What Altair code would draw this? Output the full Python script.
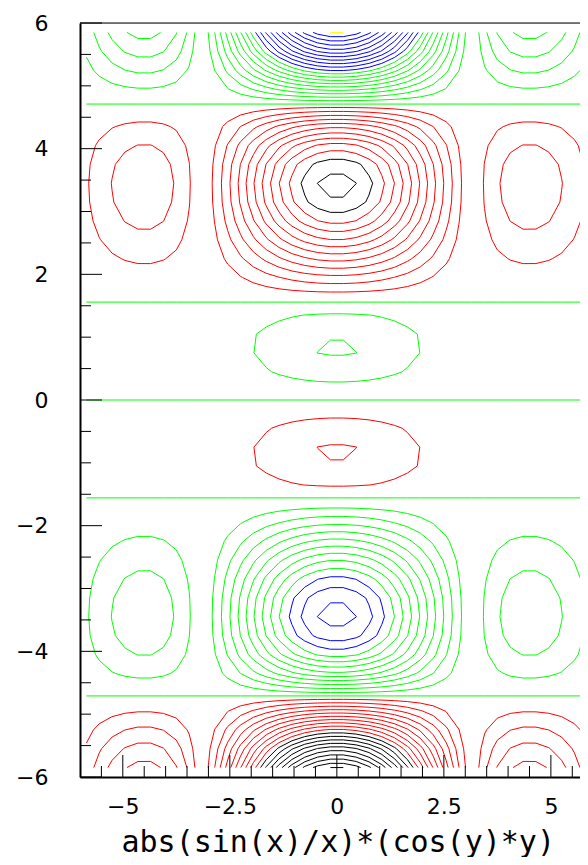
import numpy as np
import pandas as pd
import altair as alt

# ---- data description ------------------------------------------------------
# The chart is a contour plot of the function named in its axis title:
#   abs(sin(x)/x) * (cos(y)*y), sampled on a 40 x 40 bin-centre grid over [-6, 6]
X_RANGE = [-6.0, 6.0]
Y_RANGE = [-6.0, 6.0]
N_BINS = 40
N_LEVEL_STEPS = 40          # levels run from zmin to zmax inclusive (41 levels)
LEVELS_PER_COLOR = 10
GROUP_NAMES = ["black", "red", "green", "blue", "yellow"]
GROUP_COLORS = ["#000000", "#ff0000", "#00ff00", "#0000ff", "#ffff00"]

X_MAJOR = [-5, -2.5, 0, 2.5, 5]
X_MINOR = [-5.5, -4.5, -4, -3.5, -3, -2, -1.5, -1, -0.5,
           0.5, 1, 1.5, 2, 3, 3.5, 4, 4.5, 5.5]
Y_MAJOR = [-6, -4, -2, 0, 2, 4, 6]
Y_MINOR = [-5.5, -5, -4.5, -3.5, -3, -2.5, -1.5, -1, -0.5,
           0.5, 1, 1.5, 2.5, 3, 3.5, 4.5, 5, 5.5]
X_TITLE = "abs(sin(x)/x)*(cos(y)*y)"
X_VISIBLE_MAX = 5.68        # the reference frame is cut off by the image's right edge

# ---- sample the function on the grid ----------------------------------------
dx = (X_RANGE[1] - X_RANGE[0]) / N_BINS
dy = (Y_RANGE[1] - Y_RANGE[0]) / N_BINS
xc = X_RANGE[0] + (np.arange(N_BINS) + 0.5) * dx
yc = Y_RANGE[0] + (np.arange(N_BINS) + 0.5) * dy
XX, YY = np.meshgrid(xc, yc)          # z[j, i] -> (xc[i], yc[j])
Z = np.abs(np.sin(XX) / XX) * (np.cos(YY) * YY)
levels = np.linspace(Z.min(), Z.max(), N_LEVEL_STEPS + 1)

# ---- marching squares ---------------------------------------------------------
rows = []
for li, L in enumerate(levels):
    group = GROUP_NAMES[min(li // LEVELS_PER_COLOR, len(GROUP_NAMES) - 1)]
    last = li == len(levels) - 1
    inside = (Z >= L) if last else (Z > L)
    for j in range(N_BINS - 1):
        for i in range(N_BINS - 1):
            cb = [inside[j, i], inside[j, i + 1], inside[j + 1, i + 1], inside[j + 1, i]]
            if all(cb) or not any(cb):
                continue
            cz = [Z[j, i], Z[j, i + 1], Z[j + 1, i + 1], Z[j + 1, i]]
            cp = [(xc[i], yc[j]), (xc[i + 1], yc[j]), (xc[i + 1], yc[j + 1]), (xc[i], yc[j + 1])]
            edges = [(0, 1), (1, 2), (3, 2), (0, 3)]
            pts = {}
            for e, (a, b) in enumerate(edges):
                if cb[a] != cb[b]:
                    t = (L - cz[a]) / (cz[b] - cz[a])
                    pts[e] = (cp[a][0] + t * (cp[b][0] - cp[a][0]),
                              cp[a][1] + t * (cp[b][1] - cp[a][1]))
            keys = list(pts)
            if len(keys) == 2:
                pairs = [(keys[0], keys[1])]
            else:
                centre_in = (sum(cz) / 4.0) > L
                if cb[0]:   # corners 0 and 2 inside
                    pairs = [(0, 1), (2, 3)] if centre_in else [(0, 3), (1, 2)]
                else:       # corners 1 and 3 inside
                    pairs = [(0, 3), (1, 2)] if centre_in else [(0, 1), (2, 3)]
            for a, b in pairs:
                (x1, y1), (x2, y2) = pts[a], pts[b]
                rows.append((round(x1, 4), round(y1, 4), round(x2, 4), round(y2, 4), group))

seg = pd.DataFrame(rows, columns=["x", "y", "x2", "y2", "g"])

# ---- chart -------------------------------------------------------------------
W, H = 500, 754
MAJOR_LEN, MINOR_LEN = 22, 11
LABEL_EXPR = "(datum.value < 0 ? '\u2212' : '') + abs(datum.value)"

xs = alt.Scale(domain=[X_RANGE[0], X_VISIBLE_MAX], nice=False, zero=False)
ys = alt.Scale(domain=Y_RANGE, nice=False, zero=False)

x_axis = alt.Axis(
    values=X_MAJOR, labelExpr=LABEL_EXPR, ticks=False, tickSize=0, grid=False,
    domainColor="black", domainWidth=2,
    labelFont="DejaVu Sans", labelFontSize=22, labelColor="black",
    labelPadding=19, labelFlush=False, labelOverlap=False,
    title=X_TITLE, titleFont="DejaVu Sans Mono", titleFontSize=30,
    titleFontWeight="normal", titleColor="black", titleBaseline="alphabetic",
    titleAlign="center", titleX=257.7, titleY=74)
y_axis = alt.Axis(
    values=Y_MAJOR, labelExpr=LABEL_EXPR, ticks=False, tickSize=0, grid=False,
    domainColor="black", domainWidth=2,
    labelFont="DejaVu Sans", labelFontSize=22, labelColor="black",
    labelPadding=32, labelFlush=False, labelOverlap=False, title=None)

contours = alt.Chart(seg).mark_rule(strokeWidth=1, clip=True).encode(
    x=alt.X("x:Q", scale=xs, axis=x_axis),
    y=alt.Y("y:Q", scale=ys, axis=y_axis),
    x2="x2:Q",
    y2="y2:Q",
    color=alt.Color("g:N", scale=alt.Scale(domain=GROUP_NAMES, range=GROUP_COLORS),
                    legend=None),
)

x_major = alt.Chart(pd.DataFrame({"x": X_MAJOR})).mark_rule(color="black", strokeWidth=1).encode(
    x=alt.X("x:Q", scale=xs, axis=x_axis), y=alt.value(H), y2=alt.value(H - MAJOR_LEN))
x_minor = alt.Chart(pd.DataFrame({"x": X_MINOR})).mark_rule(color="black", strokeWidth=1).encode(
    x=alt.X("x:Q", scale=xs, axis=x_axis), y=alt.value(H), y2=alt.value(H - MINOR_LEN))
y_major = alt.Chart(pd.DataFrame({"y": Y_MAJOR})).mark_rule(color="black", strokeWidth=1).encode(
    y=alt.Y("y:Q", scale=ys, axis=y_axis), x=alt.value(0), x2=alt.value(MAJOR_LEN))
y_minor = alt.Chart(pd.DataFrame({"y": Y_MINOR})).mark_rule(color="black", strokeWidth=1).encode(
    y=alt.Y("y:Q", scale=ys, axis=y_axis), x=alt.value(0), x2=alt.value(MINOR_LEN))
top_frame = alt.Chart(pd.DataFrame({"y": [Y_RANGE[1]]})).mark_rule(color="black", strokeWidth=1).encode(
    y=alt.Y("y:Q", scale=ys, axis=y_axis), x=alt.value(0), x2=alt.value(W))

chart = alt.layer(contours, x_major, x_minor, y_major, y_minor, top_frame).properties(
    width=W, height=H,
    padding={"left": 72, "top": 15, "right": 0, "bottom": 80},
    autosize=alt.AutoSizeParams(type="none"),
).configure_view(stroke=None).configure(background="white")

chart.save("out.html", embed_options={"renderer": "svg", "actions": False})
